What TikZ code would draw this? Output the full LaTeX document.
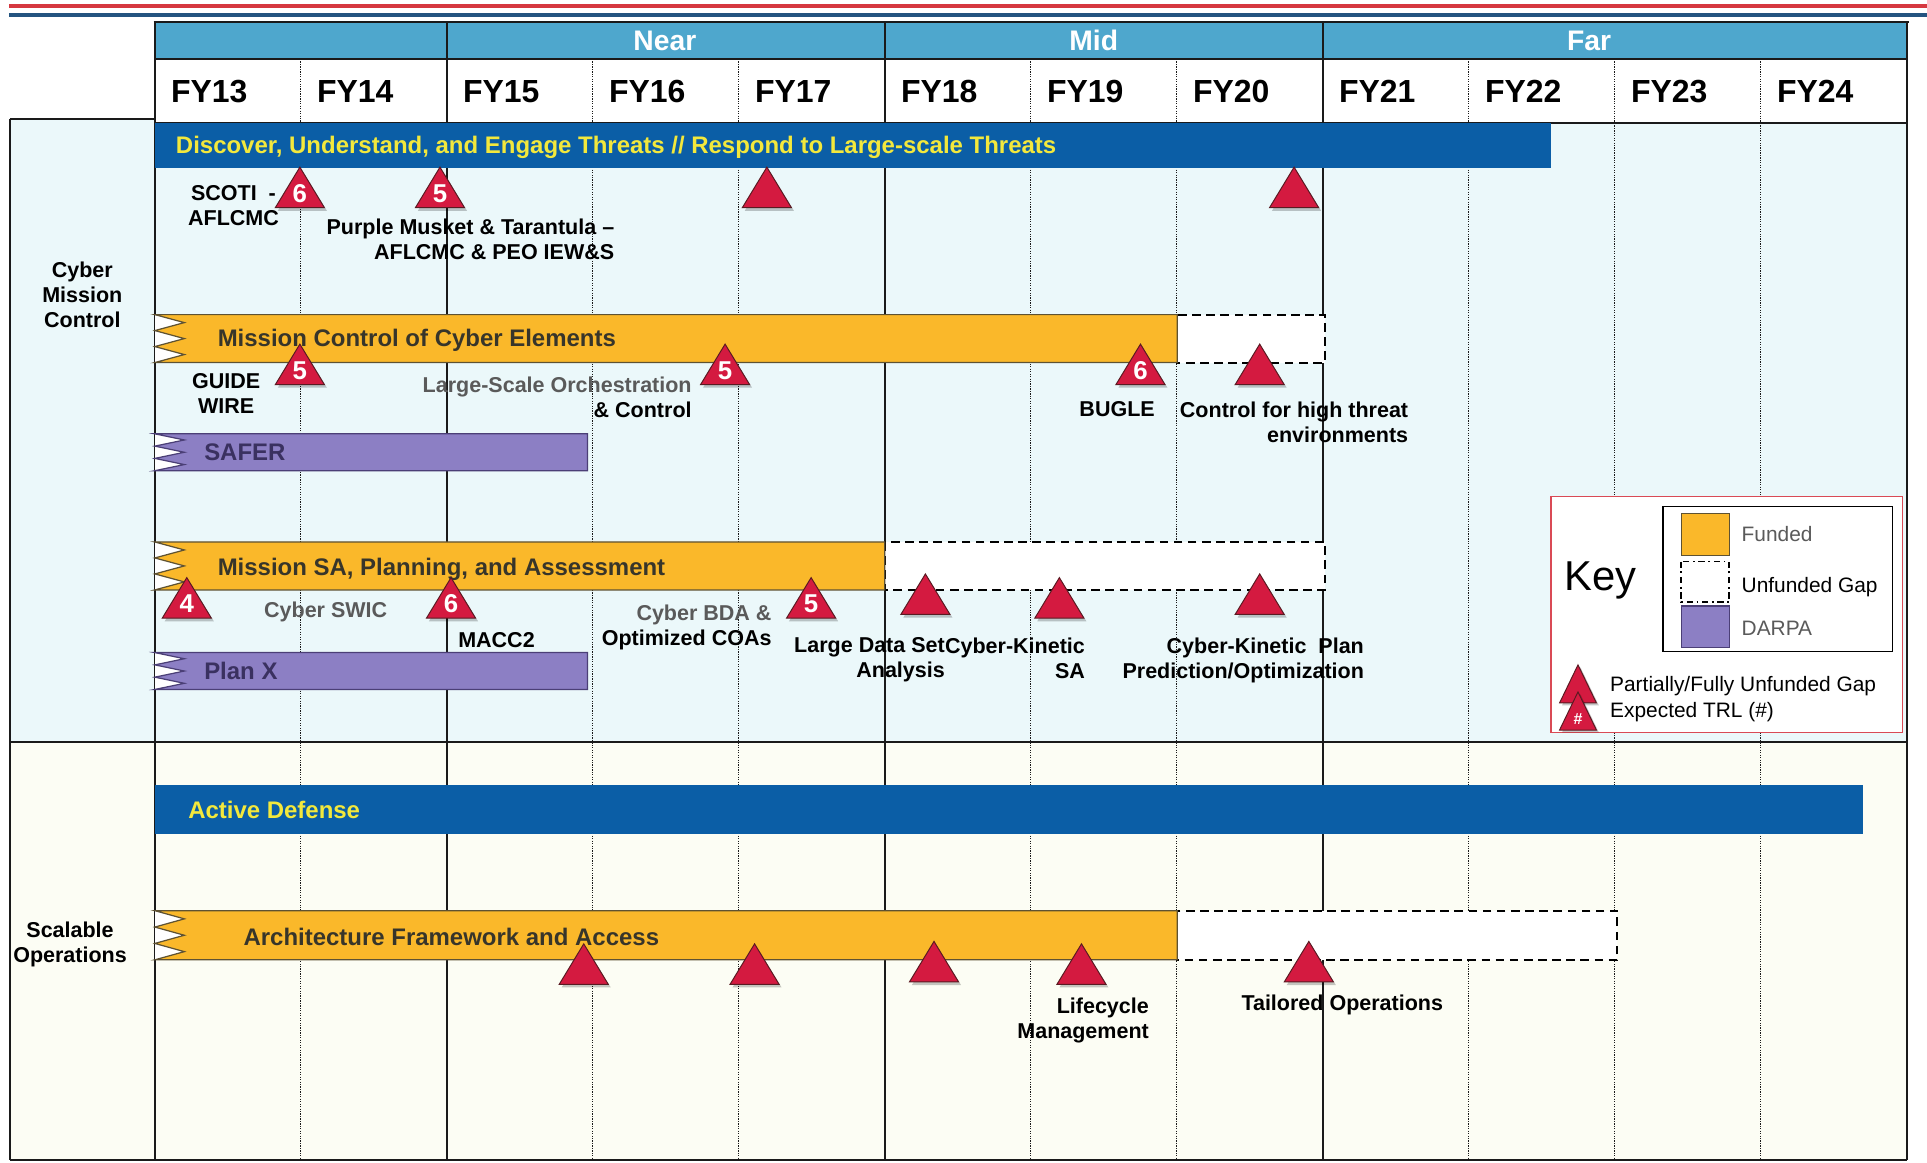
\documentclass[tikz,border=0pt]{standalone}
\usepackage{fontspec}
\setmainfont{Liberation Sans}
\definecolor{topred}{HTML}{D63840}
\definecolor{topblue}{HTML}{245480}
\definecolor{hdrband}{HTML}{4EA7CD}
\definecolor{cmcbg}{HTML}{EBF8FA}
\definecolor{sobg}{HTML}{FCFDF4}
\definecolor{barblue}{HTML}{0B5EA6}
\definecolor{bartext}{HTML}{F3E83C}
\definecolor{funded}{HTML}{FAB82A}
\definecolor{fundedline}{HTML}{5E5232}
\definecolor{fundtext}{HTML}{37352A}
\definecolor{darpa}{HTML}{8C7FC4}
\definecolor{darpaline}{HTML}{4B3F76}
\definecolor{darpatext}{HTML}{3A3160}
\definecolor{gapred}{HTML}{D41A40}
\definecolor{gapedge}{HTML}{5A1A22}
\definecolor{keyred}{HTML}{D94A55}
\definecolor{labgray}{HTML}{5A5A5A}
\definecolor{gridline}{HTML}{1A1A1A}

\tikzset{
  phaseline/.style={gridline, line width=2pt},
  yearline/.style={gridline, line width=0.9pt, dash pattern=on 1pt off 1pt},
  bluebar/.style={fill=barblue},
  fundbar/.style={fill=funded, draw=fundedline, line width=1pt},
  darpabar/.style={fill=darpa, draw=darpaline, line width=1pt},
  gapbox/.style={fill=white, draw=black, line width=1.6pt, dash pattern=on 7pt off 4.5pt},
  gaptri/.style={fill=gapred, draw=gapedge, line width=0.8pt},
  trinum/.style={text=white, font=\fontsize{21}{21}\selectfont\bfseries, inner sep=0pt},
  lab/.style={font=\fontsize{17.5}{20.5}\selectfont\bfseries, inner sep=0pt, text=black},
  bartxt/.style={font=\fontsize{19.5}{22}\selectfont\bfseries, inner sep=0pt, anchor=base west},
  fylab/.style={font=\fontsize{26}{26}\selectfont\bfseries, inner sep=0pt, anchor=base west},
  phaselab/.style={font=\fontsize{23}{23}\selectfont\bfseries, text=white, inner sep=0pt},
  keytxt/.style={font=\fontsize{17}{20}\selectfont, inner sep=0pt, anchor=base west},
}

% bar with a zig-zag left edge: style, x0, x1, ytop, ybottom
\newcommand\zigbar[5]{%
  \fill[white] (#2,#4) rectangle ({#2+24},#5);
  \path[#1] (#2,#4) -- (#3,#4) -- (#3,#5) -- (#2,#5)
    -- ({#2+24},{#5-(#5-#4)/6}) -- (#2,{#5-(#5-#4)/3}) -- ({#2+24},{#5-(#5-#4)/2})
    -- (#2,{#5-2*(#5-#4)/3}) -- ({#2+24},{#5-5*(#5-#4)/6}) -- cycle;}

% red gap marker: name, x, base y, TRL number
\newcommand\gapmark[4]{%
  \fill[black, opacity=0.22] ({#2-18},{#3+2.5}) -- ({#2+2},{#3-30}) -- ({#2+22},{#3+2.5}) -- cycle;
  \filldraw[gaptri] ({#2-20},#3) -- (#2,{#3-33}) -- ({#2+20},#3) -- cycle;
  \node[trinum] (#1) at (#2,{#3-11.5}) {#4};}

\begin{document}
\begin{tikzpicture}[x=1pt,y=-1pt]
\useasboundingbox (0,0) rectangle (1568,946);
\fill[white] (0,0) rectangle (1568,946);

% title rules
\fill[topred] (7,3.5) rectangle (1568,6.5);
\fill[topblue] (7,10.5) rectangle (1568,13.5);

% row backgrounds
\fill[cmcbg] (8,97) rectangle (1552,604);
\fill[sobg] (8,604) rectangle (1552,944);

% header
\fill[hdrband] (126,18) rectangle (1552,48);
\fill[white] (126,48) rectangle (1552,100);

% year grid
\foreach \k in {1,3,4,6,7,9,10,11}
  \draw[yearline] ({126+118.8*\k},48) -- ({126+118.8*\k},944);
\foreach \k in {0,2,5,8,12}
  \draw[phaseline] ({126+118.8*\k},18) -- ({126+118.8*\k},944);

% frame rules
\draw[gridline, line width=2pt] (125,18) -- (1553,18);
\draw[gridline, line width=0.9pt] (126,48) -- (1552,48);
\draw[gridline, line width=1.3pt] (126,100) -- (1552,100);
\draw[gridline, line width=1.5pt] (8,97) -- (126,97);
\draw[gridline, line width=1.5pt] (8,97) -- (8,944);
\draw[gridline, line width=1.5pt] (8,604) -- (1552,604);
\draw[gridline, line width=1.5pt] (8,944) -- (1552,944);

% phase and year labels
\node[phaselab] (near) at (541,33) {Near};
\node[phaselab] (mid) at (890,33) {Mid};
\node[phaselab] (far) at (1293,33) {Far};
\foreach \k/\yr in {0/13,1/14,2/15,3/16,4/17,5/18,6/19,7/20,8/21,9/22,10/23,11/24}
  \node[fylab] (fy\yr) at ({126+118.8*\k+13},83.3) {FY\yr};

% row labels
\node[lab, align=center, anchor=north] (cmc) at (67,212.7) {Cyber\\Mission\\Control};
\node[lab, align=center, anchor=north] (sops) at (57,749.7) {Scalable\\Operations};

% ---- Cyber Mission Control ----
\fill[bluebar] (126,100) rectangle (1262,137);
\node[bartxt, text=bartext] (discover) at (143,125) {Discover, Understand, and Engage Threats // Respond to Large-scale Threats};

\draw[gapbox] (958,256) rectangle (1078,295);
\zigbar{fundbar}{126}{958}{256}{295}
\node[bartxt, text=fundtext] (mcce) at (177,282) {Mission Control of Cyber Elements};

\zigbar{darpabar}{126}{478}{353}{383}
\node[bartxt, text=darpatext] (safer) at (166,375) {SAFER};

\draw[gapbox] (720,441) rectangle (1078,480);
\zigbar{fundbar}{126}{720}{441}{480}
\node[bartxt, text=fundtext] (msapa) at (177,468) {Mission SA, Planning, and Assessment};

\zigbar{darpabar}{126}{478}{531}{561}
\node[bartxt, text=darpatext] (planx) at (166,553) {Plan X};

% markers on the threat row
\gapmark{t1}{244}{169}{6}
\gapmark{t2}{358}{169}{5}
\gapmark{t3}{624}{169}{}
\gapmark{t4}{1053}{169}{}
\node[lab, align=center, anchor=north] (scoti) at (190,150.7) {SCOTI \ -\\AFLCMC};
\node[lab, align=right, anchor=north east] (purple) at (500,177.7) {Purple Musket \& Tarantula –\\AFLCMC \& PEO IEW\&S};

% markers on mission control
\gapmark{c1}{244}{313}{5}
\gapmark{c2}{590}{313}{5}
\gapmark{c3}{928}{313}{6}
\gapmark{c4}{1025}{313}{}
\node[lab, align=center, anchor=north] (guide) at (184,303.7) {GUIDE\\WIRE};
\node[lab, align=right, anchor=north east] (lsoc) at (563,306.7) {\textcolor{labgray}{Large-Scale Orchestration}\\\& Control};
\node[lab] (bugle) at (909,333) {BUGLE};
\node[lab, align=right, anchor=north east] (cfht) at (1146,326.7) {Control for high threat\\environments};

% markers on mission SA
\gapmark{s1}{152}{503}{4}
\gapmark{s2}{367}{503}{6}
\gapmark{s3}{660}{503}{5}
\gapmark{s4}{753}{500}{}
\gapmark{s5}{862}{503}{}
\gapmark{s6}{1025}{500}{}
\node[lab, text=labgray] (swic) at (265,498) {Cyber SWIC};
\node[lab] (macc) at (404,521) {MACC2};
\node[lab, align=right, anchor=north east] (bda) at (628,491.7) {\textcolor{labgray}{Cyber BDA \&}\\Optimized COAs};
\node[lab, align=right, anchor=north east] (ldsa) at (769,518.7) {Large Data Set\\Analysis};
\node[lab, align=right, anchor=north east] (cksa) at (883,518.7) {Cyber-Kinetic\\SA};
\node[lab, align=right, anchor=north east] (ckpp) at (1110,518.7) {Cyber-Kinetic \ Plan\\Prediction/Optimization};

% ---- Scalable Operations ----
\fill[bluebar] (126,639) rectangle (1516,679);
\node[bartxt, text=bartext] (actdef) at (153,666) {Active Defense};

\draw[gapbox] (958,741) rectangle (1316,781);
\zigbar{fundbar}{126}{958}{741}{781}
\node[bartxt, text=fundtext] (afa) at (198,769) {Architecture Framework and Access};

\gapmark{a1}{475}{801}{}
\gapmark{a2}{614}{801}{}
\gapmark{a3}{760}{799}{}
\gapmark{a4}{880}{801}{}
\gapmark{a5}{1065}{799}{}
\node[lab, align=right, anchor=north east] (lcm) at (935,811.7) {Lifecycle\\Management};
\node[lab, anchor=west] (tops) at (1010,818) {Tailored Operations};

% ---- key ----
\draw[keyred, fill=white, line width=1.5pt] (1262,404) rectangle (1548,596);
\draw[black, line width=1.2pt] (1353,412) rectangle (1540,530);
\node[anchor=west, inner sep=0pt, font=\fontsize{34}{34}\selectfont] (key) at (1273,472) {Key};
\filldraw[fill=funded, draw=fundedline, line width=1pt] (1368,418) rectangle (1407,452);
\draw[black, line width=1.2pt, dash pattern=on 5pt off 3pt on 1.5pt off 3pt] (1368,457) rectangle (1407,490);
\filldraw[fill=darpa, draw=darpaline, line width=1pt] (1368,493) rectangle (1407,527);
\node[keytxt, text=labgray] (kf) at (1417,441) {Funded};
\node[keytxt] (ku) at (1417,482) {Unfunded Gap};
\node[keytxt, text=labgray] (kd) at (1417,517) {DARPA};
\fill[black, opacity=0.22] (1271,574) -- (1286,543) -- (1301,574) -- cycle;
\filldraw[gaptri] (1269,572) -- (1284,541) -- (1299,572) -- cycle;
\fill[black, opacity=0.22] (1271,596) -- (1286,565) -- (1301,596) -- cycle;
\filldraw[gaptri] (1269,594) -- (1284,563) -- (1299,594) -- cycle;
\node[text=white, font=\fontsize{13}{13}\selectfont\bfseries, inner sep=0pt] (khash) at (1284,585) {\#};
\node[keytxt] (kp) at (1310,563) {Partially/Fully Unfunded Gap};
\node[keytxt] (ke) at (1310,584) {Expected TRL (\#)};
\end{tikzpicture}
\end{document}
